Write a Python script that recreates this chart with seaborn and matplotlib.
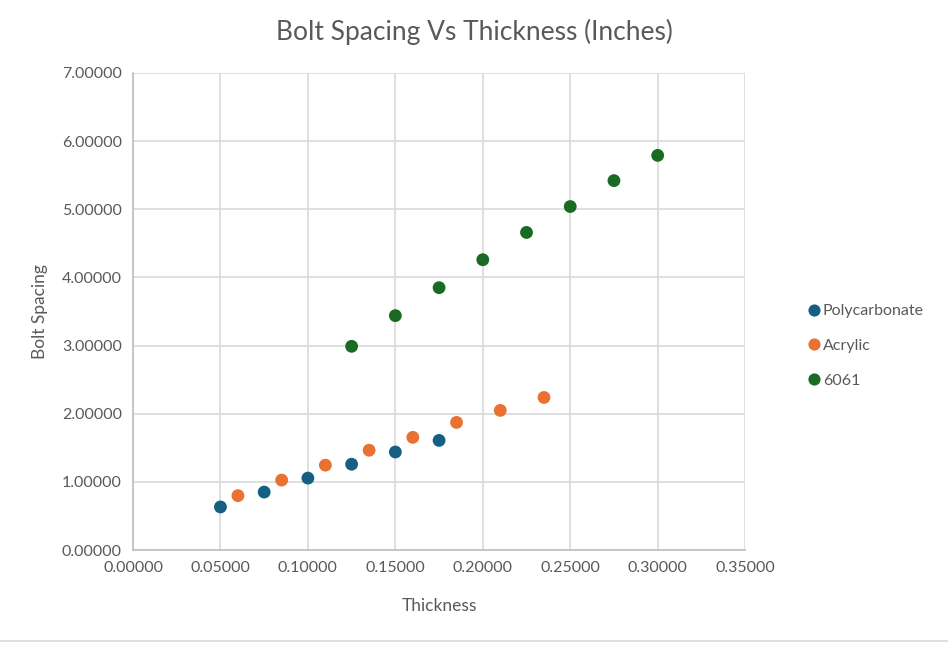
import pandas as pd
import seaborn as sns
import matplotlib.pyplot as plt
from matplotlib.lines import Line2D
from matplotlib.ticker import FormatStrFormatter

poly_x = [0.05, 0.075, 0.1, 0.125, 0.15, 0.175]
poly_y = [0.634, 0.852, 1.057, 1.261, 1.44, 1.61]

acr_x = [0.06, 0.085, 0.11, 0.135, 0.16, 0.185, 0.21, 0.235]
acr_y = [0.80, 1.028, 1.247, 1.466, 1.655, 1.874, 2.05, 2.24]

al_x = [0.125, 0.15, 0.175, 0.2, 0.225, 0.25, 0.275, 0.3]
al_y = [2.99, 3.44, 3.85, 4.26, 4.66, 5.04, 5.42, 5.79]

series = ["Polycarbonate", "Acrylic", "6061"]
colors = ["#156082", "#E97132", "#196B24"]

df = pd.concat([
    pd.DataFrame({"Thickness": poly_x, "Bolt Spacing": poly_y, "Material": series[0]}),
    pd.DataFrame({"Thickness": acr_x, "Bolt Spacing": acr_y, "Material": series[1]}),
    pd.DataFrame({"Thickness": al_x, "Bolt Spacing": al_y, "Material": series[2]}),
])

sns.set_style("white")
plt.rcParams["font.family"] = ["Lato", "DejaVu Sans"]
txt = "#595959"

fig = plt.figure(figsize=(9.48, 6.45), dpi=100)
ax = fig.add_axes([0.1403, 0.147, 0.786 - 0.1403, 0.887 - 0.147])

sns.scatterplot(data=df, x="Thickness", y="Bolt Spacing", hue="Material",
                hue_order=series, palette=colors, s=85, linewidth=0,
                ax=ax, zorder=3)

ax.set_xlim(0, 0.35)
ax.set_ylim(0, 7)
ax.set_xticks([i * 0.05 for i in range(8)])
ax.set_yticks(range(8))
ax.xaxis.set_major_formatter(FormatStrFormatter("%.5f"))
ax.yaxis.set_major_formatter(FormatStrFormatter("%.5f"))
ax.grid(True, color="#d9d9d9", linewidth=1.2)
ax.set_axisbelow(True)
for s in ["top", "right"]:
    ax.spines[s].set_visible(False)
for s in ["left", "bottom"]:
    ax.spines[s].set_color("#bfbfbf")
    ax.spines[s].set_linewidth(1.2)
ax.tick_params(length=0, labelsize=11.5, colors=txt, pad=8)

ax.set_xlabel("Thickness", fontsize=12.5, color=txt, labelpad=16)
ax.set_ylabel("Bolt Spacing", fontsize=12.5, color=txt, labelpad=10)
fig.suptitle("Bolt Spacing Vs Thickness (Inches)", fontsize=19, color=txt,
             y=0.97)

ax.legend(loc="center left", bbox_to_anchor=(0.852, 0.4636),
          bbox_transform=fig.transFigure, frameon=False, fontsize=11.5,
          handlelength=0.8, handletextpad=0.15, labelspacing=1.3,
          borderaxespad=0, borderpad=0, markerscale=0.95, labelcolor=txt)

fig.add_artist(Line2D([0, 1], [0.006, 0.006], color="#d9d9d9",
                      linewidth=1.2, transform=fig.transFigure))

fig.savefig("out.png", dpi=100)
